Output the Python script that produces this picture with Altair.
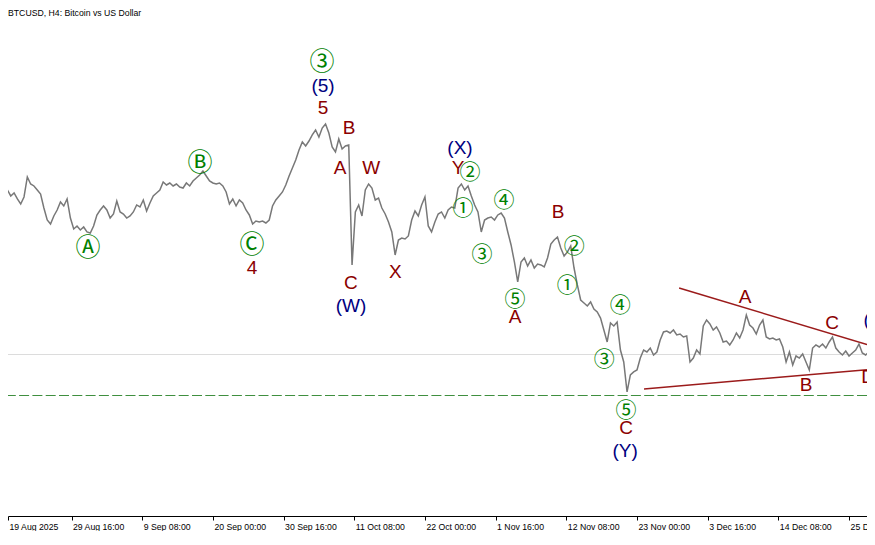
import altair as alt
import pandas as pd

TITLE = "BTCUSD, H4:  Bitcoin vs US Dollar"

# H4 price path, sampled every 12 hours from 20 Aug 2025 00:00 (USD)
series_start = "2025-08-20 00:00"
series_step = "12h"
close_prices = [
    114770, 113770, 114270, 113270, 112430, 113600, 116940, 115770, 115440, 114770,
    114100, 111760, 109760, 109090, 110430, 111430, 112770, 112100, 113270, 110090,
    108260, 108760, 108090, 108590, 107760, 107590, 108760, 110600, 111430, 112100,
    111430, 110090, 110760, 112930, 111100, 110760, 110090, 110430, 111100, 112270,
    111930, 113100, 111260, 112600, 113770, 114270, 114770, 116110, 115610, 115940,
    115440, 115770, 115270, 115100, 115940, 115440, 116270, 116770, 117280, 117940,
    117110, 116270, 115940, 115770, 115940, 115440, 114440, 112430, 113270, 112100,
    113100, 112600, 111430, 110600, 109090, 109590, 109430, 109590, 109260, 109760,
    112100, 113100, 113770, 114440, 115610, 117110, 118440, 119780, 121450, 122790,
    122120, 122950, 123960, 124790, 123620, 125120, 125790, 124290, 121950, 121120,
    123290, 121620, 122120, 122290, 102250, 111100, 112270, 110430, 114770, 115770,
    115100, 113100, 113430, 111760, 110760, 109430, 107760, 103920, 106420, 106750,
    106590, 107090, 109760, 111260, 110430, 112270, 113600, 108760, 107760, 109430,
    110760, 111100, 110090, 111430, 111930, 111760, 115100, 115770, 114770, 115440,
    113770, 112270, 111100, 107760, 109760, 110090, 110260, 109760, 110600, 110930,
    110090, 107760, 105590, 102750, 99410, 102750, 103410, 102080, 103080, 101740,
    102410, 102250, 101910, 103410, 105750, 106420, 106920, 105080, 103750, 104420,
    105420, 101740, 98910, 96400, 95900, 95400, 96070, 94900, 94400, 93390,
    91390, 89390, 92560, 92060, 92730, 88050, 86050, 81040, 83880, 84380,
    84710, 86710, 88050, 87720, 88380, 87220, 87720, 89720, 91060, 91220,
    90890, 91390, 90560, 90720, 90220, 90390, 86050, 86710, 88050, 87380,
    92060, 93060, 92390, 91390, 91890, 90890, 89390, 89550, 88890, 89720,
    90890, 90050, 91390, 93900, 92230, 91720, 90720, 92230, 93060, 90220,
    89890, 90050, 89720, 89890, 88550, 86050, 87720, 85550, 87050, 86710,
    87380, 86050, 84710, 88380, 88890, 88550, 89050, 88380, 89390, 90220,
    88380, 87720, 87220, 87880, 87050, 87550, 88050, 89050, 87550, 87220,
    87720, 86050,
]

# visible window
x_start = "2025-08-20 02:00"
x_end = "2025-12-27 17:00"
price_low, price_high = 60330, 145160

# time axis
tick_times = ["2025-08-19 00:00", "2025-08-29 16:00", "2025-09-09 08:00", "2025-09-20 00:00",
              "2025-09-30 16:00", "2025-10-11 08:00", "2025-10-22 00:00", "2025-11-01 16:00",
              "2025-11-12 08:00", "2025-11-23 00:00", "2025-12-03 16:00", "2025-12-14 08:00",
              "2025-12-25 00:00"]
tick_labels = ["19 Aug 2025", "29 Aug 16:00", "9 Sep 08:00", "20 Sep 00:00", "30 Sep 16:00",
               "11 Oct 08:00", "22 Oct 00:00", "1 Nov 16:00", "12 Nov 08:00", "23 Nov 00:00",
               "3 Dec 16:00", "14 Dec 08:00", "25 Dec 00:00"]

# horizontal levels
bid_level = [87300]
support_level = [80450]

# triangle trendlines (start time, start price, end time, end price)
trend_t1 = ["2025-11-29 08:30", "2025-11-24 01:30"]
trend_p1 = [98400, 81540]
trend_t2 = ["2025-12-27 17:00", "2025-12-27 17:00"]
trend_p2 = [88950, 84760]

# wave labels
small_circ_text = ["②", "①", "④", "③", "⑤", "②", "①", "④", "③", "⑤"]
small_circ_time = ["2025-10-28 19:30", "2025-10-27 18:00", "2025-11-02 22:30", "2025-10-30 15:00",
                   "2025-11-04 14:30", "2025-11-13 13:00", "2025-11-12 11:00", "2025-11-20 11:00",
                   "2025-11-18 01:00", "2025-11-21 08:30"]
small_circ_price = [117600, 111600, 112940, 103920, 96400, 105260, 98740, 95400, 86380, 77870]

big_circ_text = ["Ⓐ", "Ⓑ", "Ⓒ", "③"]
big_circ_time = ["2025-09-01 04:00", "2025-09-18 01:30", "2025-09-25 22:00", "2025-10-06 11:30"]
big_circ_price = [105090, 119280, 105590, 136150]

red_text = ["4", "5", "B", "A", "W", "C", "X", "Y", "B", "A", "C", "A", "C", "B", "D"]
red_time = ["2025-09-25 22:00", "2025-10-06 15:00", "2025-10-10 13:00", "2025-10-09 04:30",
            "2025-10-13 21:00", "2025-10-10 20:00", "2025-10-17 12:30", "2025-10-27 00:00",
            "2025-11-11 02:00", "2025-11-04 14:30", "2025-11-21 08:30", "2025-12-09 07:30",
            "2025-12-22 10:30", "2025-12-18 12:30", "2025-12-27 21:00"]
red_price = [101740, 128460, 125120, 118440, 118440, 99240, 101080, 118440, 111100, 93560,
             75020, 96900, 92560, 82200, 83540]

navy_text = ["(5)", "(W)", "(X)", "(Y)", "(X)"]
navy_time = ["2025-10-06 15:00", "2025-10-10 20:00", "2025-10-27 07:00", "2025-11-21 05:00",
             "2025-12-29 02:00"]
navy_price = [132140, 95400, 121780, 71180, 93060]

# ---------------------------------------------------------------
def dt(s):
    t = pd.Timestamp(s)
    return alt.DateTime(year=t.year, month=t.month, date=t.day, hours=t.hour, minutes=t.minute)

xs = alt.Scale(type="time", domain=[dt(x_start), dt(x_end)])
ys = alt.Scale(domain=[price_low, price_high], nice=False, zero=False)

first_visible = max(pd.Timestamp(tick_times[0]), pd.Timestamp(x_start))
tick_ts = [first_visible] + [pd.Timestamp(t) for t in tick_times[1:]]
expr = ""
for t, lab in zip(tick_ts, tick_labels):
    expr += f"timeFormat(datum.value, '%Y-%m-%d %H:%M') == '{t:%Y-%m-%d %H:%M}' ? '{lab}' : "
expr += "''"

AXIS_FONT = "Liberation Sans"
AXIS_SIZE = 8.7

x_axis = alt.Axis(
    values=[dt(t) for t in tick_ts], labelExpr=expr, title=None, grid=False,
    domainColor="#000000", domainWidth=1, tickColor="#000000", tickSize=4, tickWidth=1,
    labelAlign="left", labelBaseline="top", labelPadding=2, labelOffset=1,
    labelFont=AXIS_FONT, labelFontSize=AXIS_SIZE, labelColor="#000000", labelOverlap=False,
    labelFlush=False,
)


def X(field):
    return alt.X(field, scale=xs, axis=x_axis)


def Y(field):
    return alt.Y(field, scale=ys, axis=None)


price_df = pd.DataFrame({
    "time": pd.date_range(series_start, periods=len(close_prices), freq=series_step),
    "price": close_prices,
})

line = alt.Chart(price_df).mark_line(color="#787878", strokeWidth=1.5, clip=True).encode(
    x=X("time:T"), y=Y("price:Q"),
)

bid = alt.Chart(pd.DataFrame({"price": bid_level})).mark_rule(
    color="#dcdcdc", strokeWidth=1).encode(y=Y("price:Q"))

support = alt.Chart(pd.DataFrame({"price": support_level})).mark_rule(
    color="#3f8f3f", strokeWidth=1, strokeDash=[10, 3.3]).encode(y=Y("price:Q"))

trend_df = pd.DataFrame({
    "t1": pd.to_datetime(trend_t1), "p1": trend_p1,
    "t2": pd.to_datetime(trend_t2), "p2": trend_p2,
})
trend = alt.Chart(trend_df).mark_rule(color="#9b1b1b", strokeWidth=1.5).encode(
    x=X("t1:T"), x2="t2:T", y=Y("p1:Q"), y2="p2:Q",
)


def labels(texts, times, prices, color, size, font):
    df = pd.DataFrame({"label": texts, "time": pd.to_datetime(times), "price": prices})
    return alt.Chart(df).mark_text(
        color=color, fontSize=size, font=font, align="center", baseline="middle"
    ).encode(x=X("time:T"), y=Y("price:Q"), text="label:N")


CIRC_FONT = "Noto Sans CJK JP"
LET_FONT = "Liberation Sans"

small_c = labels(small_circ_text, small_circ_time, small_circ_price, "#008000", 21, CIRC_FONT)
big_c = labels(big_circ_text, big_circ_time, big_circ_price, "#008000", 25, CIRC_FONT)
red = labels(red_text, red_time, red_price, "#8b0000", 19, LET_FONT)
navy = labels(navy_text, navy_time, navy_price, "#000080", 19, LET_FONT)

title = alt.Chart(pd.DataFrame({"t": [TITLE]})).mark_text(
    align="left", baseline="top", font=AXIS_FONT, fontSize=AXIS_SIZE, color="#000000"
).encode(text="t:N", x=alt.value(0), y=alt.value(1))

chart = alt.layer(bid, support, trend, line, small_c, big_c, red, navy, title).properties(
    width=859,
    height=508,
    padding={"left": 0, "top": 0, "right": 0, "bottom": 15},
    autosize=alt.AutoSizeParams(type="none"),
    background="white",
).configure_view(stroke=None)

chart.save("out.html", embed_options={"renderer": "svg", "actions": False})
